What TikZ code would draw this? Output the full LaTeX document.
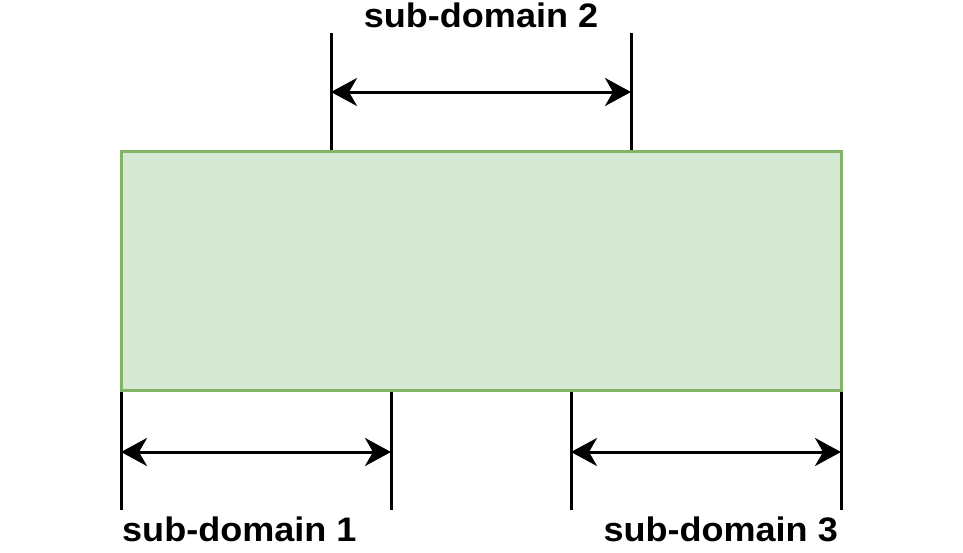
\documentclass[tikz,border=0pt]{standalone}
\usepackage{fontspec}
\setmainfont{Liberation Sans}
\newfontfamily\lblfont[FakeStretch=1.06]{Liberation Sans}
\usetikzlibrary{arrows.meta}

\definecolor{domfill}{HTML}{D5E8D4}
\definecolor{domline}{HTML}{82B366}

\begin{document}
\begin{tikzpicture}[x=1pt, y=-1pt,
    limitline/.style={line width=3pt},
    dimarrow/.style={line width=3pt,
        {Stealth[length=26pt,width=28pt,inset=8pt]}-{Stealth[length=26pt,width=28pt,inset=8pt]}},
    domlabel/.style={font=\lblfont\fontsize{34}{40}\selectfont\bfseries, inner sep=0pt}]

    \useasboundingbox (0,0) rectangle (963,552);

    % constants
    \def\ytop{33}
    \def\ybot{510}

    % domain
    \node[draw=domline, fill=domfill, line width=3pt, inner sep=0pt,
          minimum width=720pt, minimum height=239pt] (domain) at (481,270.5) {};

    % sub-domain 2 (top)
    \coordinate (a2) at (331,\ytop);
    \coordinate (b2) at (631,\ytop);
    \draw[limitline] (a2) -- (a2 |- domain.north);
    \draw[limitline] (b2) -- (b2 |- domain.north);
    \coordinate (l2) at (331,92);
    \coordinate (r2) at (631,92);
    \draw[dimarrow] (l2) -- (r2);
    \node[domlabel, anchor=base] (t2) at (481,27) {sub-domain 2};

    % sub-domain 1 (bottom left)
    \coordinate (a1) at (121,\ybot);
    \coordinate (b1) at (391,\ybot);
    \draw[limitline] (a1) -- (a1 |- domain.south);
    \draw[limitline] (b1) -- (b1 |- domain.south);
    \coordinate (l1) at (121,452);
    \coordinate (r1) at (391,452);
    \draw[dimarrow] (l1) -- (r1);
    \node[domlabel, anchor=base west] (t1) at (122,541) {sub-domain 1};

    % sub-domain 3 (bottom right)
    \coordinate (a3) at (571,\ybot);
    \coordinate (b3) at (841,\ybot);
    \draw[limitline] (a3) -- (a3 |- domain.south);
    \draw[limitline] (b3) -- (b3 |- domain.south);
    \coordinate (l3) at (571,452);
    \coordinate (r3) at (841,452);
    \draw[dimarrow] (l3) -- (r3);
    \node[domlabel, anchor=base east] (t3) at (838,541) {sub-domain 3};

\end{tikzpicture}
\end{document}
